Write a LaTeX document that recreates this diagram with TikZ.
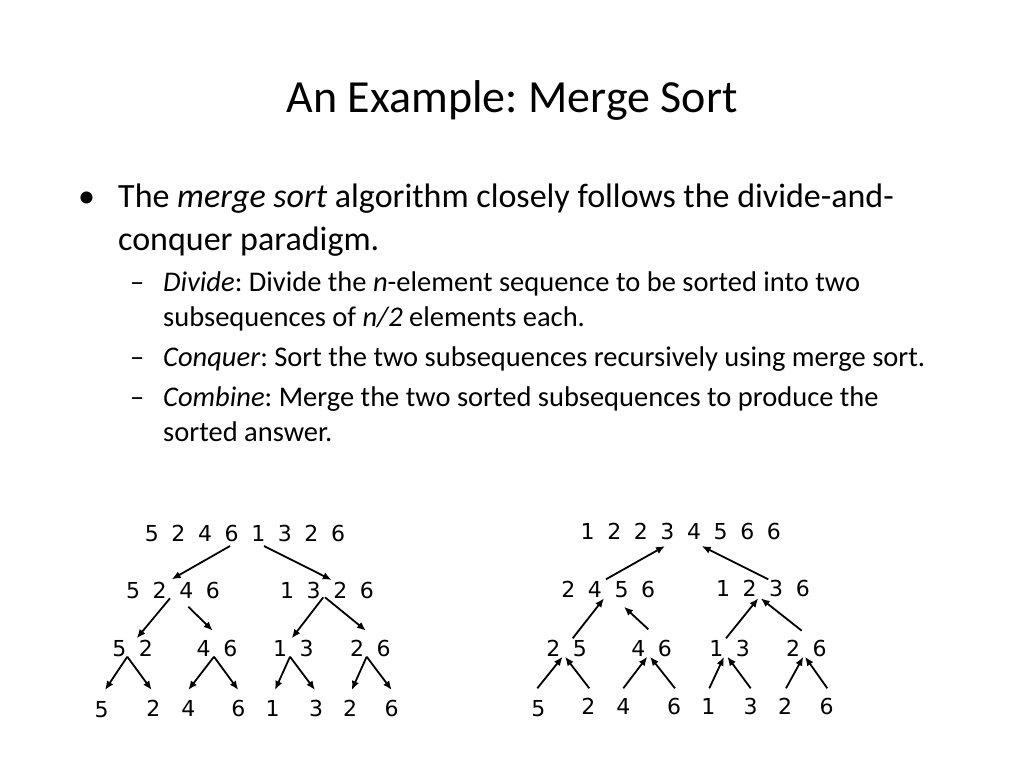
\documentclass[tikz,border=0pt]{standalone}
\usepackage{fontspec}
\setmainfont{Carlito}
\newfontfamily\digitfont{DejaVu Sans}
\usepackage{tikz}
\usetikzlibrary{arrows.meta,positioning,calc}
\frenchspacing
\newcommand{\seq}[1]{\foreach \d in {#1}{\makebox[26.6bp]{\d}}}

\begin{document}
\begin{tikzpicture}[x=1bp, y=-1bp,
    num/.style={font=\digitfont\fontsize{22bp}{26bp}\selectfont, inner sep=0pt, text height=16bp, text depth=0pt},
    arr/.style={-{Latex[length=9bp,width=7.5bp]}, line width=1.8bp},
    big/.style={font=\fontsize{34bp}{40bp}\selectfont, anchor=base west, inner sep=0pt},
    small/.style={font=\fontsize{28.5bp}{34bp}\selectfont, anchor=base west, inner sep=0pt}]
    \useasboundingbox (0,0) rectangle (1024,768);

    % Title and text
    \node[anchor=base, inner sep=0pt, font=\fontsize{46bp}{54bp}\selectfont] (head) at (512,112) {An Example: Merge Sort};
    \node[big] (dot) at (78,207) {•};
    \node[big] (item) at (118,207) {The \textit{merge sort} algorithm closely follows the divide-and-};
    \node[big] (itemb) at (118,250) {conquer paradigm.};
    \node[small] (dasha) at (130,291) {–};
    \node[small] (suba) at (163,291) {\textit{Divide}: Divide the \textit{n}-element sequence to be sorted into two};
    \node[small] (subab) at (163,326) {subsequences of \textit{n/2} elements each.};
    \node[small] (dashb) at (130,366) {–};
    \node[small] (subb) at (163,366) {\textit{Conquer}: Sort the two subsequences recursively using merge sort.};
    \node[small] (dashc) at (130,406) {–};
    \node[small] (subc) at (163,406) {\textit{Combine}: Merge the two sorted subsequences to produce the};
    \node[small] (subcb) at (163,441) {sorted answer.};

    % Left tree: divide
    \node[num] (dtop) at (245,533) {\seq{5,2,4,6,1,3,2,6}};
    \node[num] (dl) at (173,590) {\seq{5,2,4,6}};
    \node[num] (dr) at (327,590) {\seq{1,3,2,6}};
    \node[num] (dll) at (132.7,648) {\seq{5,2}};
    \node[num] (dlr) at (217,648) {\seq{4,6}};
    \node[num] (drl) at (293.3,648) {\seq{1,3}};
    \node[num] (drr) at (370.3,648) {\seq{2,6}};
    \node[num] (d1) at (101.7,709) {5};
    \node[num] (d2) at (153.3,708) {2};
    \node[num] (d3) at (188.3,708) {4};
    \node[num] (d4) at (238.3,708) {6};
    \node[num] (d5) at (272.7,708) {1};
    \node[num] (d6) at (316,708) {3};
    \node[num] (d7) at (350,708) {2};
    \node[num] (d8) at (391.7,708) {6};

    \draw[arr] ([shift={(-15,13)}]dtop.center) -- ([shift={(-1.3,-10.7)}]dl.center);
    \draw[arr] ([shift={(19,13)}]dtop.center) -- ([shift={(4.7,-10)}]dr.center);
    \draw[arr] ([shift={(-3,8.3)}]dl.center) -- ([shift={(4,-9.7)}]dll.center);
    \draw[arr] ([shift={(15.3,16.7)}]dl.center) -- ([shift={(-4.3,-17.3)}]dlr.center);
    \draw[arr] ([shift={(-3.7,7.3)}]dr.center) -- ([shift={(-1.6,-9.7)}]drl.center);
    \draw[arr] ([shift={(-2,7.3)}]dr.center) -- ([shift={(-4.3,-17.3)}]drr.center);
    \draw[arr] ([shift={(-5.4,8.7)}]dll.center) -- ([shift={(3.3,-19)}]d1.center);
    \draw[arr] ([shift={(-5.4,8.7)}]dll.center) -- ([shift={(-1.6,-18)}]d2.center);
    \draw[arr] ([shift={(-3,8.7)}]dlr.center) -- ([shift={(0,-18)}]d3.center);
    \draw[arr] ([shift={(-3,8.7)}]dlr.center) -- ([shift={(0,-18)}]d4.center);
    \draw[arr] ([shift={(-3.3,8.7)}]drl.center) -- ([shift={(2.3,-18)}]d5.center);
    \draw[arr] ([shift={(-3.3,8.7)}]drl.center) -- ([shift={(-1,-18)}]d6.center);
    \draw[arr] ([shift={(-3.6,8.7)}]drr.center) -- ([shift={(1.7,-18)}]d7.center);
    \draw[arr] ([shift={(-3.6,8.7)}]drr.center) -- ([shift={(0,-18)}]d8.center);

    % Right tree: merge
    \node[num] (mtop) at (680.8,531.7) {\seq{1,2,2,3,4,5,6,6}};
    \node[num] (ml) at (608.3,589) {\seq{2,4,5,6}};
    \node[num] (mr) at (762.9,588.5) {\seq{1,2,3,6}};
    \node[num] (mll) at (566.7,648) {\seq{2,5}};
    \node[num] (mlr) at (651.7,648) {\seq{4,6}};
    \node[num] (mrl) at (729.7,648) {\seq{1,3}};
    \node[num] (mrr) at (806.3,648) {\seq{2,6}};
    \node[num] (m1) at (538.3,708) {5};
    \node[num] (m2) at (588.3,706.7) {2};
    \node[num] (m3) at (623.3,706.7) {4};
    \node[num] (m4) at (674,706.7) {6};
    \node[num] (m5) at (708.3,706.7) {1};
    \node[num] (m6) at (750.7,706.7) {3};
    \node[num] (m7) at (785,706.7) {2};
    \node[num] (m8) at (826.7,706.7) {6};

    \draw[arr] ([shift={(-2.3,-9.7)}]ml.center) -- ([shift={(-15.8,14.3)}]mtop.center);
    \draw[arr] ([shift={(5.4,-9.2)}]mr.center) -- ([shift={(20.9,14.3)}]mtop.center);
    \draw[arr] ([shift={(6,-9.7)}]mll.center) -- ([shift={(-4.3,9.3)}]ml.center);
    \draw[arr] ([shift={(-3.4,-18.7)}]mlr.center) -- ([shift={(15.7,17.7)}]ml.center);
    \draw[arr] ([shift={(-3.7,-9.7)}]mrl.center) -- ([shift={(-4.6,9.8)}]mr.center);
    \draw[arr] ([shift={(-4.6,-17.3)}]mrr.center) -- ([shift={(-2.2,9.8)}]mr.center);
    \draw[arr] ([shift={(-1,-19.7)}]m1.center) -- ([shift={(-4,8.7)}]mll.center);
    \draw[arr] ([shift={(1,-18.4)}]m2.center) -- ([shift={(-1.7,8.7)}]mll.center);
    \draw[arr] ([shift={(0,-18.4)}]m3.center) -- ([shift={(-4.4,8.7)}]mlr.center);
    \draw[arr] ([shift={(1,-18.4)}]m4.center) -- ([shift={(-1.7,8.7)}]mlr.center);
    \draw[arr] ([shift={(1,-18.4)}]m5.center) -- ([shift={(-5.7,8.7)}]mrl.center);
    \draw[arr] ([shift={(0,-18.4)}]m6.center) -- ([shift={(-2.4,8.7)}]mrl.center);
    \draw[arr] ([shift={(1,-18.4)}]m7.center) -- ([shift={(-3,8.7)}]mrr.center);
    \draw[arr] ([shift={(0.6,-18.4)}]m8.center) -- ([shift={(-1.3,8.7)}]mrr.center);
\end{tikzpicture}
\end{document}
